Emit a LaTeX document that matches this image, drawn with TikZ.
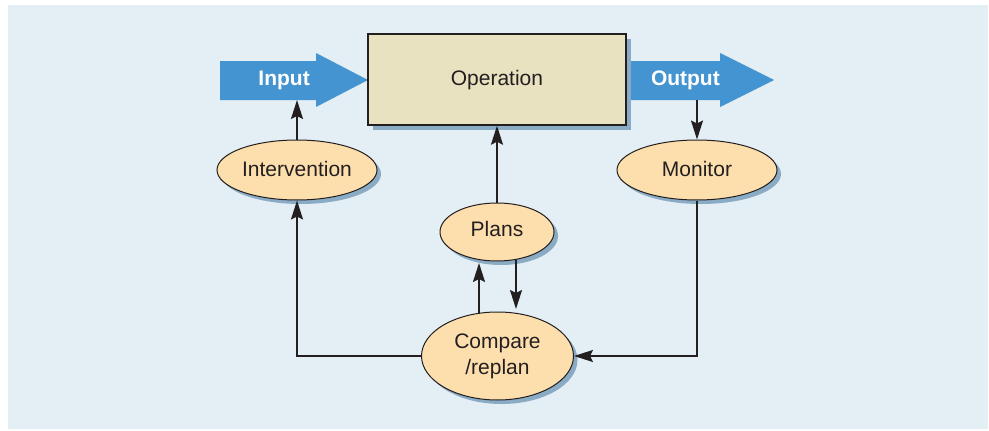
\documentclass[tikz,border=0pt]{standalone}
\usepackage{fontspec}
\setmainfont{Liberation Sans}
\usetikzlibrary{arrows.meta,shapes.geometric,shadows,calc}
\definecolor{panel}{HTML}{E3EEF5}
\definecolor{flowblue}{HTML}{4394D0}
\definecolor{peach}{HTML}{FDDFAE}
\definecolor{opfill}{HTML}{E8E2C0}
\definecolor{shade}{HTML}{8AABC4}
\definecolor{ink}{HTML}{231F20}
\tikzset{
  lbl/.style={font=\fontsize{21}{25}\selectfont, text=ink, inner sep=0pt, anchor=base},
  flowlbl/.style={font=\fontsize{21}{25}\selectfont\bfseries, text=white, inner sep=0pt, anchor=base east},
  oval/.style={ellipse, draw=ink, line width=1pt, fill=peach, inner sep=0pt,
    drop shadow={shadow xshift=4pt, shadow yshift=-4pt, opacity=1, fill=shade}},
  opbox/.style={rectangle, draw=ink, line width=1.4pt, fill=opfill, inner sep=0pt,
    drop shadow={shadow xshift=5pt, shadow yshift=-5pt, opacity=1, fill=shade}},
  conn/.style={draw=ink, line width=1.8pt, -{Stealth[length=19pt,width=12pt,inset=3pt]}},
}
\begin{document}
\begin{tikzpicture}[x=1pt,y=-1pt]
\useasboundingbox (0,0) rectangle (989,431);
\fill[panel] (8,5) rectangle (988,429);
% blue flow arrows
\fill[flowblue] (220,61) -- (316,61) -- (316,53) -- (368,80) -- (316,107) -- (316,100) -- (220,100) -- cycle;
\fill[flowblue] (620,61) -- (720,61) -- (720,53) -- (774,80) -- (720,107) -- (720,100) -- (620,100) -- cycle;
\node[flowlbl] (inlbl) at (310,85) {Input};
\node[flowlbl] (outlbl) at (720,85) {Output};
\coordinate (inbot) at (297,100);
\coordinate (outbot) at (697,100);
% operation box
\node[opbox, minimum width=258pt, minimum height=91pt] (op) at (497,79.5) {};
\node[lbl] (optxt) at (497,85) {Operation};
% ellipses
\node[oval, minimum width=160pt, minimum height=60pt] (interv) at (297,170) {};
\node[lbl] (intervtxt) at (297,176) {Intervention};
\node[oval, minimum width=160pt, minimum height=60pt] (mon) at (697,170) {};
\node[lbl] (montxt) at (697,176) {Monitor};
\node[oval, minimum width=114pt, minimum height=58pt] (plans) at (497,232) {};
\node[lbl] (planstxt) at (497,236) {Plans};
\node[oval, minimum width=152pt, minimum height=88pt] (comp) at (497.5,356) {};
\node[lbl] (comptxt1) at (497.5,348) {Compare};
\node[lbl] (comptxt2) at (497.5,374) {/replan};
% end points on the ellipse borders for the two short links
\coordinate (cupS) at (479,313.5);
\coordinate (cupE) at (479,263);
\coordinate (cdnS) at (516,259.5);
\coordinate (cdnE) at (516,309);
% connectors
\draw[conn] (interv.north) -- (inbot);
\draw[conn] (plans.north) -- (op.south);
\draw[conn] (outbot) -- (mon.north);
\draw[conn] (mon.south) |- (comp.east);
\draw[conn] (comp.west) -| (interv.south);
\draw[conn] (cupS) -- (cupE);
\draw[conn] (cdnS) -- (cdnE);
\end{tikzpicture}
\end{document}
